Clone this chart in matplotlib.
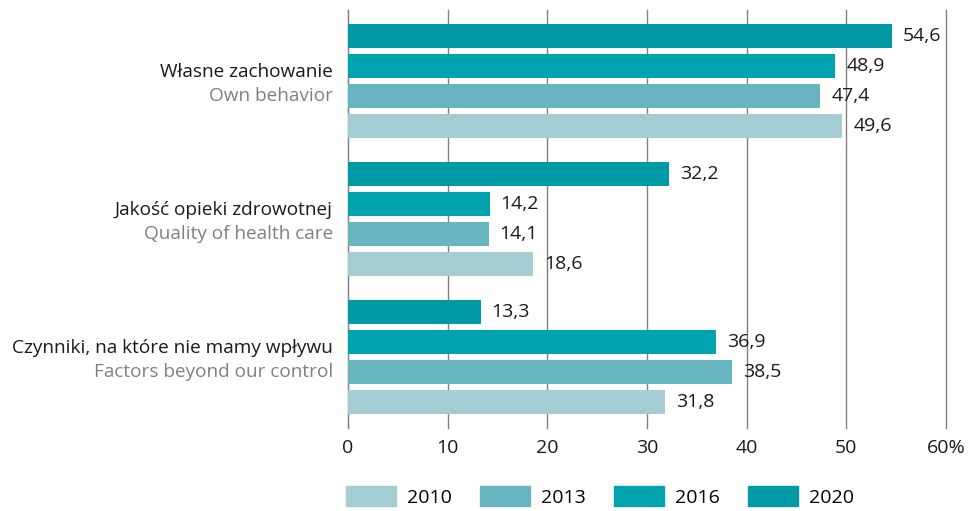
import matplotlib.pyplot as plt
from matplotlib.patches import Patch

plt.rcParams['font.family'] = ['Open Sans', 'DejaVu Sans']

# categories (top to bottom)
labels_pl = ["Własne zachowanie", "Jakość opieki zdrowotnej", "Czynniki, na które nie mamy wpływu"]
labels_en = ["Own behavior", "Quality of health care", "Factors beyond our control"]

years = ["2020", "2016", "2013", "2010"]  # order from top inside each group
values = {
    "2020": [54.6, 32.2, 13.3],
    "2016": [48.9, 14.2, 36.9],
    "2013": [47.4, 14.1, 38.5],
    "2010": [49.6, 18.6, 31.8],
}
colors = {"2020": "#009aa6", "2016": "#00a4ae", "2013": "#66b5bf", "2010": "#a3cdd3"}
ticks = [0, 10, 20, 30, 40, 50, 60]

fig = plt.figure(figsize=(9.74, 5.11), dpi=100)
ax = fig.add_axes([348 / 974, 1 - 428 / 511, 598 / 974, 418 / 511])

group_pitch = 4.6
for j, yr in enumerate(years):
    for i, v in enumerate(values[yr]):
        y = i * group_pitch + j
        ax.barh(y, v, height=0.8, color=colors[yr], zorder=3)
        ax.text(v + 1.1, y, f"{v:.1f}".replace(".", ","), va="center", ha="left",
                fontsize=14, color="#1a1a1a", zorder=4, clip_on=False)

ax.set_ylim(2 * group_pitch + 3 + 0.87, -0.85)
ax.set_xlim(0, 60)
ax.set_xticks(ticks)
ax.set_xticklabels([str(t) for t in ticks[:-1]] + ["60%"], fontsize=14, color="#1a1a1a")
ax.tick_params(axis="x", length=0, pad=8)
ax.set_yticks([])
for s in ["top", "right", "bottom"]:
    ax.spines[s].set_visible(False)
ax.spines["left"].set_color("#808080")
ax.xaxis.grid(True, color="#808080", linewidth=1)
for gl in ax.get_xgridlines():
    gl.set_clip_on(False)
ax.set_axisbelow(True)

for i in range(3):
    yc = i * group_pitch + 1.5
    ax.text(-1.5, yc - 0.3, labels_pl[i], ha="right", va="center", fontsize=13.7,
            color="#1a1a1a", clip_on=False)
    ax.text(-1.5, yc + 0.5, labels_en[i], ha="right", va="center", fontsize=13.7,
            color="#808080", clip_on=False)

handles = [Patch(color=colors[y]) for y in ["2010", "2013", "2016", "2020"]]
fig.legend(handles, ["2010", "2013", "2016", "2020"], ncol=4, loc="lower left",
           bbox_to_anchor=(346 / 974, 0.008), frameon=False, fontsize=14,
           handlelength=2.58, handleheight=1.19, handletextpad=0.57,
           columnspacing=1.44, borderpad=0.0, borderaxespad=0)

fig.savefig("out.png", dpi=100)
